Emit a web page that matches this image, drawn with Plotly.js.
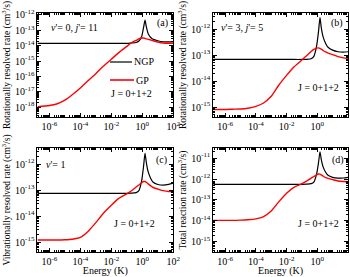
<!DOCTYPE html>
<html>
<head>
<meta charset="utf-8">
<script src="https://cdn.plot.ly/plotly-3.0.1.min.js"></script>
<style>html,body{margin:0;padding:0;background:#fff;}#chart{width:350px;height:277px;}</style>
</head>
<body>
<div id="chart"></div>
<script>
// Collision energy (K)
const energy = [1.7e-7, 1e-6, 3e-6, 1e-5, 3e-5, 1e-4, 3e-4, 1e-3, 3e-3, 1e-2, 3e-2, 0.1, 0.2, 0.4, 0.6, 0.9, 1.2, 1.5, 1.8, 2.4, 3.5, 5, 10, 22, 50, 100];

// (a) v'=0, j'=11
const ngpA = [1.4e-14,1.4e-14,1.4e-14,1.4e-14,1.4e-14,1.4e-14,1.4e-14,1.4e-14,1.4e-14,1.4e-14,1.4e-14,1.4e-14,1.5e-14,1.6e-14,2.0e-14,3.8e-14,1.5e-13,4.7e-13,1.8e-13,6e-14,3.4e-14,2.6e-14,2.1e-14,1.8e-14,1.75e-14,1.8e-14];
const gpA  = [1.07e-18,1.26e-18,1.58e-18,2.8e-18,6.3e-18,1.74e-17,5.0e-17,1.5e-16,4.5e-16,1.32e-15,3.5e-15,9e-15,1.55e-14,2.2e-14,2.8e-14,3.16e-14,3.16e-14,3.0e-14,2.8e-14,2.6e-14,2.35e-14,2.1e-14,1.74e-14,1.5e-14,1.45e-14,1.45e-14];
// (b) v'=3, j'=5
const ngpB = [6.8e-14,6.8e-14,6.8e-14,6.8e-14,6.8e-14,6.8e-14,6.8e-14,6.8e-14,6.8e-14,6.8e-14,6.8e-14,6.8e-14,6.9e-14,7.3e-14,9e-14,2.2e-13,8e-13,2.8e-12,1.2e-12,5e-13,2.8e-13,2.0e-13,1.55e-13,1.35e-13,1.3e-13,1.35e-13];
const gpB  = [8.1e-16,8.1e-16,8.3e-16,8.5e-16,9.1e-16,1.07e-15,1.41e-15,2.6e-15,6.8e-15,1.66e-14,3.5e-14,6.5e-14,9.5e-14,1.38e-13,1.66e-13,1.86e-13,1.9e-13,1.82e-13,1.7e-13,1.51e-13,1.32e-13,1.2e-13,1.05e-13,8.7e-14,7.8e-14,7.4e-14];
// (c) v'=1
const ngpC = [7.5e-14,7.5e-14,7.5e-14,7.5e-14,7.5e-14,7.5e-14,7.5e-14,7.5e-14,7.5e-14,7.5e-14,7.5e-14,7.5e-14,7.6e-14,8e-14,9.5e-14,2.2e-13,8e-13,2.6e-12,1.2e-12,5e-13,2.8e-13,2.0e-13,1.65e-13,1.55e-13,1.65e-13,1.85e-13];
const gpC  = [1.2e-15,1.2e-15,1.2e-15,1.23e-15,1.29e-15,1.51e-15,2.5e-15,5.6e-15,1.26e-14,2.6e-14,4.8e-14,7.2e-14,9.5e-14,1.32e-13,1.58e-13,1.9e-13,2.14e-13,2.14e-13,2.0e-13,1.74e-13,1.45e-13,1.26e-13,1.1e-13,9.5e-14,8.9e-14,9.1e-14];
// (d) total
const ngpD = [5.6e-13,5.6e-13,5.6e-13,5.6e-13,5.6e-13,5.6e-13,5.6e-13,5.6e-13,5.6e-13,5.6e-13,5.6e-13,5.6e-13,5.7e-13,6e-13,7.2e-13,1.7e-12,6e-12,2e-11,9e-12,3.8e-12,2.1e-12,1.5e-12,1.2e-12,1.1e-12,1.12e-12,1.2e-12];
const gpD  = [1.07e-14,1.07e-14,1.07e-14,1.1e-14,1.15e-14,1.26e-14,1.58e-14,3e-14,7.9e-14,2.1e-13,4e-13,6e-13,7.9e-13,1.1e-12,1.32e-12,1.58e-12,1.74e-12,1.7e-12,1.58e-12,1.38e-12,1.17e-12,1.07e-12,9.3e-13,8.1e-13,7.6e-13,7.4e-13];

// Tick values and labels
const xTickVals = [1e-6, 1e-4, 1e-2, 1, 100];
const xTickText = ['10<sup>-6</sup>','10<sup>-4</sup>','10<sup>-2</sup>','10<sup>0</sup>','10<sup>2</sup>'];
const yTickValsA = [1e-18,1e-17,1e-16,1e-15,1e-14,1e-13,1e-12];
const yTickTextA = ['10<sup>-18</sup>','10<sup>-17</sup>','10<sup>-16</sup>','10<sup>-15</sup>','10<sup>-14</sup>','10<sup>-13</sup>','10<sup>-12</sup>'];
const yTickValsBC = [1e-15,1e-14,1e-13,1e-12];
const yTickTextBC = ['10<sup>-15</sup>','10<sup>-14</sup>','10<sup>-13</sup>','10<sup>-12</sup>'];
const yTickValsD = [1e-15,1e-14,1e-13,1e-12,1e-11];
const yTickTextD = ['10<sup>-15</sup>','10<sup>-14</sup>','10<sup>-13</sup>','10<sup>-12</sup>','10<sup>-11</sup>'];

const FONT = 'Liberation Serif, Times New Roman, serif';
const BLACK = '#000000', RED = '#ff0000';

function tr(y, color, xa, ya, name) {
  return {x: energy, y: y, type: 'scatter', mode: 'lines', name: name, xaxis: xa, yaxis: ya,
          line: {color: color, width: color === RED ? 1.4 : 1.2, shape: 'spline', smoothing: 0.6}, showlegend: false};
}
const data = [
  tr(ngpA, BLACK, 'x', 'y', 'NGP'), tr(gpA, RED, 'x', 'y', 'GP'),
  tr(ngpB, BLACK, 'x2', 'y2', 'NGP'), tr(gpB, RED, 'x2', 'y2', 'GP'),
  tr(ngpC, BLACK, 'x3', 'y3', 'NGP'), tr(gpC, RED, 'x3', 'y3', 'GP'),
  tr(ngpD, BLACK, 'x4', 'y4', 'NGP'), tr(gpD, RED, 'x4', 'y4', 'GP')
];

function xax(dom, anchor, title) {
  const a = {type: 'log', domain: dom, anchor: anchor, range: [-6.77, 2],
    tickmode: 'array', tickvals: xTickVals, ticktext: xTickText,
    ticks: 'inside', ticklen: 4, tickwidth: 1, tickcolor: '#000',
    showline: true, linecolor: '#000', linewidth: 1, mirror: 'allticks',
    showgrid: false, zeroline: false,
    minor: {ticks: 'inside', ticklen: 2, tickcolor: '#000', dtick: 'D1', showgrid: false},
    tickfont: {family: FONT, size: 10, color: '#000'}};
  if (title) a.title = {text: title, font: {family: FONT, size: 10, color: '#000'}, standoff: 9};
  return a;
}
function yax(dom, anchor, range, tv, tt, title) {
  return {type: 'log', domain: dom, anchor: anchor, range: range,
    tickmode: 'array', tickvals: tv, ticktext: tt,
    ticks: 'inside', ticklen: 4, tickwidth: 1, tickcolor: '#000',
    showline: true, linecolor: '#000', linewidth: 1, mirror: 'allticks',
    showgrid: false, zeroline: false,
    minor: {ticks: 'inside', ticklen: 2, tickcolor: '#000', dtick: 'D1', showgrid: false},
    tickfont: {family: FONT, size: 10, color: '#000'},
    title: {text: title, font: {family: FONT, size: 9.5, color: '#000'}, standoff: 2}};
}

const xL = [0.1069, 0.4951], xR = [0.6094, 0.9943];
const yT = [0.5776, 0.9531], yB = [0.0903, 0.4657];
const rotTitle = 'Rotationally resolved rate (cm<sup>3</sup>/s)';

const annFont = {family: FONT, size: 10, color: '#000'};
function ann(x, y, text) {
  return {x: x, y: y, xref: 'paper', yref: 'paper', text: text, showarrow: false, font: annFont, xanchor: 'left', yanchor: 'middle'};
}
const annotations = [
  ann(49/350, 1 - 28/277, "<i>v</i>'= 0, <i>j</i>'= 11"),
  ann(155/350, 1 - 23/277, '(a)'),
  ann(132/350, 1 - 62/277, 'NGP'),
  ann(134/350, 1 - 80/277, 'GP'),
  ann(109/350, 1 - 93/277, 'J = 0+1+2'),
  ann(219/350, 1 - 27/277, "<i>v</i>'= 3, <i>j</i>'= 5"),
  ann(329/350, 1 - 23/277, '(b)'),
  ann(296/350, 1 - 87/277, 'J = 0+1+2'),
  ann(44/350, 1 - 164/277, "<i>v</i>'= 1"),
  ann(154/350, 1 - 160/277, '(c)'),
  ann(112/350, 1 - 224/277, 'J = 0+1+2'),
  ann(330/350, 1 - 160/277, '(d)'),
  ann(296/350, 1 - 224/277, 'J = 0+1+2')
];
const shapes = [
  {type: 'line', xref: 'paper', yref: 'paper', x0: 110/350, x1: 132/350, y0: 1 - 62/277, y1: 1 - 62/277, line: {color: BLACK, width: 1.2}},
  {type: 'line', xref: 'paper', yref: 'paper', x0: 110/350, x1: 134/350, y0: 1 - 80/277, y1: 1 - 80/277, line: {color: RED, width: 1.6}}
];

const layout = {
  width: 350, height: 277, margin: {l: 0, r: 0, t: 0, b: 0},
  paper_bgcolor: '#fff', plot_bgcolor: '#fff', showlegend: false,
  font: {family: FONT, size: 10, color: '#000'},
  xaxis: xax(xL, 'y'), yaxis: yax(yT, 'x', [-18.65, -11.87], yTickValsA, yTickTextA, rotTitle),
  xaxis2: xax(xR, 'y2'), yaxis2: yax(yT, 'x2', [-15.38, -11.38], yTickValsBC, yTickTextBC, rotTitle),
  xaxis3: xax(xL, 'y3', 'Energy (K)'), yaxis3: yax(yB, 'x3', [-15.38, -11.38], yTickValsBC, yTickTextBC, 'Vibrationally resolved rate (cm<sup>3</sup>/s)'),
  xaxis4: xax(xR, 'y4', 'Energy (K)'), yaxis4: yax(yB, 'x4', [-15.48, -10.52], yTickValsD, yTickTextD, 'Total reaction rate (cm<sup>3</sup>/s)'),
  annotations: annotations, shapes: shapes
};
Plotly.newPlot('chart', data, layout, {staticPlot: true, displayModeBar: false});
</script>
</body>
</html>
